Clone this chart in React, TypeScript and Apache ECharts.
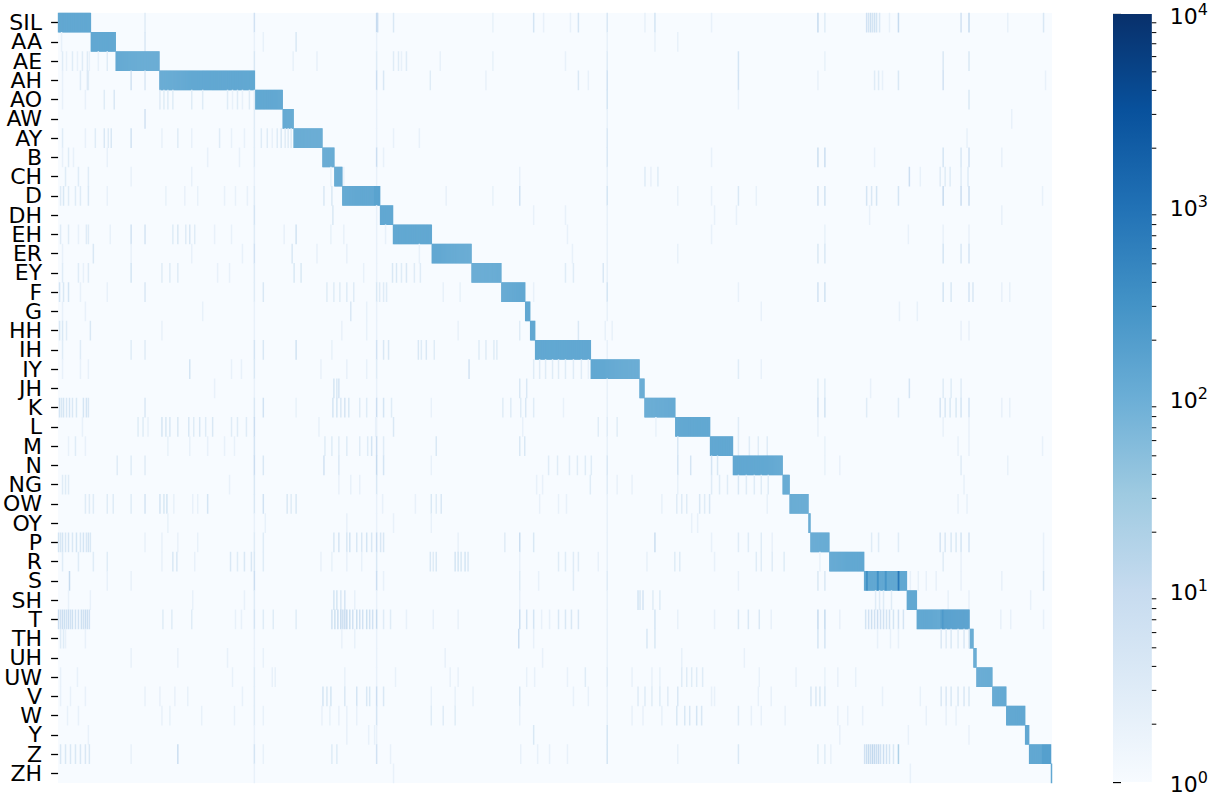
import { useEffect, useRef } from "react";
import * as echarts from "echarts";

const PHONES = ["SIL","AA","AE","AH","AO","AW","AY","B","CH","D","DH","EH","ER","EY","F","G","HH","IH","IY","JH","K","L","M","N","NG","OW","OY","P","R","S","SH","T","TH","UH","UW","V","W","Y","Z","ZH"];

// number of clusters (columns) whose dominant phone is each phone, left to right
const CLUSTERS_PER_PHONE = [33,25,44,96,28,11,29,12,8,38,13,39,40,30,24,5,5,56,49,5,31,35,23,50,7,19,2,19,35,43,10,53,4,3,16,14,19,4,22,1];

// typical count on the diagonal blocks
const DIAG_COUNT = 130;
// darker stretches inside diagonal blocks: [phone, firstCol, lastCol, count]
const DIAG_STRONGER: [string, number, number, number][] = [
  ["D", 318, 323, 160],
  ["S", 813, 814, 320], ["S", 824, 825, 320], ["S", 832, 833, 260], ["S", 845, 845, 1000], ["S", 846, 846, 400],
  ["T", 888, 916, 190], ["T", 890, 890, 320],
  ["Z", 990, 998, 180],
];

// off-diagonal counts, one list of [col, count] per phone row
const OFF_DIAG_SIL_D: [number, number][][] = [
  [[87,3],[197,6],[320,10],[321,8],[337,4],[437,2],[478,5],[488,2],[515,2],[523,5],[552,4],[590,2],[600,5],[657,2],[764,10],[771,3],[813,6],[815,5],[817,7],[819,5],[821,6],[823,5],[826,4],[836,2],[845,10],[908,6],[916,10],[955,2],[991,4]],
  [[3,2],[87,4],[197,2],[206,2],[239,4],[320,2],[552,2],[600,2],[623,2]],
  [[4,3],[8,2],[14,3],[19,2],[24,3],[29,3],[31,2],[40,2],[49,3],[197,4],[236,2],[260,2],[320,3],[337,3],[342,3],[345,2],[350,3],[384,2],[437,2],[510,2],[552,3],[684,5],[771,2],[890,4],[916,4]],
  [[4,2],[22,3],[29,4],[30,3],[73,6],[87,4],[320,8],[327,4],[374,3],[430,2],[523,4],[533,2],[552,6],[684,6],[764,2],[821,3],[825,3],[829,2],[845,4],[890,6],[993,2]],
  [[4,2],[27,2],[46,3],[56,4],[102,3],[106,3],[110,3],[115,3],[134,3],[145,3],[170,3],[175,2],[180,3],[185,2],[192,3],[197,3],[320,2],[552,5],[684,2],[916,4]],
  [[87,6],[197,3],[320,2],[552,2],[959,2]],
  [[4,3],[27,2],[37,3],[46,4],[50,3],[53,4],[73,6],[104,2],[120,3],[134,2],[162,3],[174,2],[187,2],[197,3],[204,3],[210,3],[215,2],[220,3],[224,4],[228,3],[231,3],[234,3],[320,2],[337,2],[363,2],[552,4],[914,2]],
  [[4,2],[10,3],[15,2],[49,2],[150,2],[182,2],[197,3],[320,8],[327,2],[552,4],[657,2],[764,8],[771,8],[821,2],[890,5],[908,4],[916,6],[949,2]],
  [[7,3],[20,3],[30,3],[73,2],[134,2],[197,2],[274,2],[287,2],[320,2],[464,2],[552,2],[590,3],[596,2],[603,3],[856,8],[867,2],[887,3],[892,3],[897,3],[908,3],[915,3]],
  [[2,3],[5,4],[10,3],[17,3],[22,3],[30,4],[49,2],[108,2],[127,2],[140,2],[167,2],[178,2],[190,2],[197,3],[267,4],[275,4],[390,2],[437,2],[464,6],[552,5],[623,2],[657,2],[684,4],[702,2],[764,6],[771,6],[813,5],[818,4],[823,5],[845,5],[890,10],[908,8],[916,8],[990,2]],
];
const OFF_DIAG_DH_JH: [number, number][][] = [
  [[197,5],[276,4],[320,2],[478,2],[510,2],[552,2],[660,2],[682,2],[816,2],[949,2]],
  [[2,3],[10,3],[20,2],[28,3],[30,3],[52,2],[73,6],[87,5],[115,3],[120,4],[128,3],[132,4],[137,3],[157,2],[174,2],[197,3],[227,2],[239,6],[274,2],[287,2],[320,2],[329,2],[512,2],[552,2],[657,2],[771,2],[855,2],[890,2],[916,2]],
  [[4,2],[35,4],[73,2],[134,2],[185,2],[197,6],[235,4],[260,2],[290,2],[320,2],[363,2],[517,2],[552,2],[623,2],[764,4],[771,4],[890,5],[908,4],[916,5]],
  [[4,3],[20,3],[25,2],[30,3],[73,5],[104,3],[112,3],[120,3],[160,2],[172,2],[197,3],[237,4],[244,4],[307,2],[320,2],[336,4],[340,4],[345,3],[350,4],[358,3],[364,3],[510,3],[518,3],[548,4],[552,2]],
  [[1,5],[5,4],[10,5],[22,2],[49,2],[87,4],[197,3],[206,4],[270,3],[277,3],[283,3],[290,3],[297,3],[320,4],[323,3],[327,3],[330,3],[387,2],[404,2],[478,2],[552,5],[684,2],[764,6],[771,6],[890,5],[898,4],[916,5],[920,4],[949,2],[957,2]],
  [[4,2],[27,2],[145,2],[197,2],[294,4],[310,2],[320,2],[552,2],[707,2],[846,2],[864,2]],
  [[1,4],[4,4],[8,3],[32,4],[104,2],[197,2],[285,2],[310,2],[320,2],[402,2],[464,3],[523,4],[550,2],[557,2],[908,2],[916,2]],
  [[4,3],[22,3],[73,3],[87,3],[197,5],[206,4],[239,6],[275,2],[320,6],[327,4],[332,4],[362,4],[365,3],[370,4],[378,3],[423,3],[430,3],[438,3],[441,3],[552,2]],
  [[4,2],[22,2],[30,2],[132,5],[174,2],[184,2],[197,4],[264,2],[290,2],[310,2],[320,3],[413,6],[478,3],[484,3],[490,3],[497,3],[503,3],[510,3],[518,3],[526,3],[533,2],[684,3],[707,2]],
  [[157,2],[197,2],[277,5],[280,4],[282,5],[320,2],[464,4],[471,4],[552,2],[764,3],[771,3],[817,2],[856,5],[890,3],[898,3],[908,3]],
];
const OFF_DIAG_K_S: [number, number][][] = [
  [[1,5],[3,4],[5,5],[8,4],[11,5],[14,4],[18,4],[25,5],[28,5],[30,4],[87,4],[197,4],[206,6],[239,2],[276,5],[280,5],[284,4],[288,5],[292,4],[303,3],[310,3],[320,8],[327,5],[335,3],[375,2],[447,3],[455,3],[465,3],[470,4],[478,3],[508,2],[552,2],[764,6],[771,6],[813,3],[845,3],[887,5],[892,4],[897,4],[903,4],[908,5],[916,5],[949,2],[957,2]],
  [[24,2],[80,3],[85,3],[90,2],[104,5],[108,4],[112,4],[120,4],[131,4],[136,3],[142,4],[148,3],[155,4],[174,3],[180,3],[189,3],[197,8],[262,2],[319,2],[320,2],[337,4],[467,2],[543,3],[552,3],[562,3],[601,2],[684,3],[764,2],[890,2],[916,2]],
  [[10,2],[17,3],[27,2],[110,2],[132,2],[150,2],[167,2],[177,2],[197,5],[268,3],[275,3],[282,3],[290,3],[303,3],[311,3],[315,5],[320,8],[327,3],[380,4],[464,4],[469,4],[552,2],[623,4],[684,3],[695,3],[704,3],[713,3],[771,2],[905,2],[916,2],[990,2]],
  [[59,3],[73,3],[87,3],[197,8],[206,4],[267,6],[282,4],[320,10],[327,5],[375,2],[493,3],[502,3],[514,3],[522,3],[530,3],[536,3],[552,4],[623,5],[636,5],[657,5],[663,4],[771,2],[786,2],[908,3],[955,2]],
  [[4,3],[7,3],[10,3],[172,2],[197,4],[282,2],[294,2],[303,2],[320,4],[481,2],[487,2],[535,3],[552,3],[562,2],[577,2],[623,2],[657,3],[665,3],[673,3],[684,4],[692,3],[700,3],[707,3],[714,3],[911,2]],
  [[27,3],[31,3],[35,3],[49,3],[55,3],[73,3],[87,5],[102,5],[106,4],[109,5],[116,2],[135,2],[140,2],[150,5],[197,4],[206,6],[230,4],[234,3],[239,4],[320,2],[326,2],[359,2],[375,4],[380,3],[385,4],[484,2],[503,2],[511,2],[552,2],[607,2],[622,3],[627,3],[632,3],[645,4],[650,3],[655,4],[713,2],[905,2],[914,2]],
  [[110,2],[197,2],[208,2],[290,2],[320,2],[337,2],[375,2],[552,2],[637,2],[643,2]],
  [[0,5],[2,4],[4,5],[7,4],[10,5],[14,4],[18,5],[22,4],[25,5],[28,4],[30,5],[32,4],[87,2],[104,2],[120,2],[140,2],[197,3],[206,3],[277,4],[282,5],[290,4],[293,5],[300,4],[305,4],[310,5],[315,4],[320,8],[324,4],[327,4],[402,2],[449,3],[464,8],[478,4],[552,2],[600,8],[657,2],[684,3],[694,3],[707,3],[718,2],[818,3],[825,3],[845,3],[887,5],[892,4],[898,4],[903,4],[908,5],[916,5],[991,2]],
  [[4,3],[20,3],[35,3],[49,3],[104,2],[115,4],[119,4],[137,2],[173,4],[180,3],[187,4],[194,4],[197,4],[206,3],[264,2],[275,2],[290,2],[305,2],[320,4],[374,4],[377,3],[380,4],[399,5],[402,5],[405,4],[409,5],[412,4],[464,2],[503,3],[510,3],[518,3],[523,3],[543,2],[552,2],[592,2],[620,3],[625,3],[660,2],[702,3],[707,3],[718,3],[730,3],[766,2],[890,3],[908,2],[991,2]],
  [[11,10],[49,2],[73,2],[197,8],[320,8],[327,2],[464,3],[483,2],[518,3],[552,3],[684,2],[764,4],[771,4],[857,2],[865,2],[873,2],[883,2],[908,2],[949,2],[991,4]],
];
const OFF_DIAG_SH_ZH: [number, number][][] = [
  [[10,2],[32,2],[135,2],[187,2],[197,3],[277,5],[280,5],[284,4],[288,5],[298,2],[320,2],[464,2],[552,2],[583,5],[585,4],[588,5],[598,3],[605,3],[822,3],[826,3],[830,3],[838,3],[895,2],[916,2],[978,2]],
  [[0,8],[2,6],[4,8],[6,7],[8,6],[10,8],[12,6],[14,7],[17,6],[20,6],[23,7],[25,6],[27,8],[29,7],[31,6],[105,3],[114,3],[134,3],[178,2],[184,2],[197,5],[206,3],[216,3],[239,3],[275,6],[278,7],[281,8],[284,10],[286,7],[288,8],[290,9],[293,7],[296,6],[300,7],[303,6],[306,6],[310,7],[313,6],[316,6],[320,10],[327,3],[334,3],[350,2],[377,2],[402,2],[464,8],[471,5],[478,5],[486,2],[494,2],[503,4],[510,4],[516,4],[523,4],[552,2],[600,5],[623,2],[660,2],[684,4],[694,4],[705,4],[717,2],[764,10],[771,10],[786,2],[812,5],[815,6],[818,7],[821,6],[824,8],[827,6],[830,6],[833,5],[836,6],[840,5],[845,6],[850,5],[948,2],[958,2],[991,2]],
  [[2,3],[5,3],[7,2],[27,2],[197,2],[285,2],[298,2],[320,2],[463,8],[478,2],[552,2],[592,4],[600,4],[764,5],[771,5],[824,2],[837,2],[845,2],[888,4],[893,3],[898,4],[905,3],[911,4],[916,4]],
  [[73,2],[120,2],[170,2],[197,2],[206,2],[320,2],[389,2],[487,2],[552,2],[627,2],[690,2]],
  [[2,2],[19,2],[175,2],[197,3],[215,2],[218,2],[288,2],[320,2],[339,2],[394,2],[402,2],[471,2],[479,2],[512,2],[530,3],[552,3],[577,2],[597,2],[605,2],[627,3],[632,3],[637,3],[642,3],[648,3],[705,2],[742,2],[771,2],[784,2],[802,2]],
  [[2,2],[12,2],[27,2],[87,2],[102,2],[117,2],[130,2],[185,2],[197,3],[266,5],[270,4],[274,5],[288,4],[300,5],[310,4],[313,4],[320,8],[327,4],[375,2],[399,2],[417,2],[464,4],[518,2],[533,2],[552,2],[583,3],[590,3],[597,3],[605,3],[613,3],[623,4],[657,2],[660,2],[704,2],[717,2],[757,4],[762,4],[766,4],[771,4],[829,2],[867,2],[888,4],[893,4],[898,4],[905,4],[911,4],[916,4]],
  [[9,2],[20,2],[104,2],[112,2],[144,2],[177,2],[197,3],[206,2],[265,2],[273,2],[282,2],[290,2],[300,2],[320,5],[375,3],[387,3],[399,3],[464,2],[552,2],[577,2],[588,2],[607,2],[622,4],[630,4],[635,4],[642,5],[647,4],[684,3],[697,2],[707,2],[731,2],[784,2],[794,2],[809,2],[873,2],[893,2],[903,2]],
  [[30,2],[197,2],[290,2],[312,2],[318,2],[320,2],[478,4],[552,5],[786,2],[855,2],[916,2]],
  [[2,4],[7,4],[12,4],[17,4],[22,4],[27,4],[31,4],[73,2],[120,8],[197,5],[206,2],[275,3],[280,3],[320,6],[334,2],[465,2],[482,2],[494,2],[512,2],[552,5],[623,2],[684,4],[764,3],[771,3],[777,2],[811,6],[813,8],[815,10],[817,8],[819,12],[821,10],[823,8],[825,10],[827,6],[830,8],[833,6],[836,5],[840,4],[845,20]],
  [[197,2],[337,2],[857,2]],
];

const COLORBAR_MAJOR = [1, 10, 100, 1000, 10000];
const COLORBAR_MINOR = [2,3,4,5,6,7,8,9,20,30,40,50,60,70,80,90,200,300,400,500,600,700,800,900,2000,3000,4000,5000,6000,7000,8000,9000];

const BLUES = ["#f7fbff","#deebf7","#c6dbef","#9ecae1","#6baed6","#4292c6","#2171b5","#08519c","#08306b"];
const FONT = "DejaVu Sans";

function buildHeatData() {
  const data: [number, number, number][] = [];
  const offRows = [...OFF_DIAG_SIL_D, ...OFF_DIAG_DH_JH, ...OFF_DIAG_K_S, ...OFF_DIAG_SH_ZH];
  let start = 0;
  PHONES.forEach((p, r) => {
    const n = CLUSTERS_PER_PHONE[r];
    for (let c = start; c < start + n; c++) {
      let v = DIAG_COUNT;
      DIAG_STRONGER.forEach(([ph, a, b, cnt]) => {
        if (ph === p && c >= a && c <= b) v = cnt;
      });
      data.push([c, r, Math.log10(v)]);
    }
    start += n;
    (offRows[r] || []).forEach(([c, cnt]) => data.push([c, r, Math.log10(cnt)]));
  });
  return { data, total: start };
}

export default function App() {
  const ref = useRef<HTMLDivElement>(null);
  useEffect(() => {
    if (!ref.current) return;
    const chart = echarts.init(ref.current, null, { renderer: "svg" });
    const { data, total } = buildHeatData();
    const cols = Array.from({ length: total }, (_, i) => String(i));
    const stops = BLUES.map((c, i) => ({ offset: i / (BLUES.length - 1), color: c }));
    chart.setOption({
      animation: false,
      backgroundColor: "#ffffff",
      grid: [
        { left: 58, top: 13, width: 994, height: 770, show: true, backgroundColor: BLUES[0], borderWidth: 0 },
        { left: 1113, top: 14, width: 39, height: 769, show: false },
      ],
      xAxis: [
        { type: "category", gridIndex: 0, data: cols, axisLabel: { show: false }, axisTick: { show: false }, axisLine: { show: false }, splitLine: { show: false } },
        { type: "value", gridIndex: 1, min: 0, max: 1, show: false },
      ],
      yAxis: [
        {
          type: "category", gridIndex: 0, data: PHONES, inverse: true,
          axisLine: { show: false },
          axisTick: { show: true, alignWithLabel: true, length: 7, lineStyle: { color: "#000", width: 1.3 } },
          axisLabel: { interval: 0, margin: 16, fontSize: 22, lineHeight: 19, fontFamily: FONT, color: "#000" },
          splitLine: { show: false },
        },
        {
          type: "log", gridIndex: 1, logBase: 10, min: 1, max: 10000, position: "right",
          axisLine: { show: false },
          splitLine: { show: false },
          axisTick: { show: true, length: 8, lineStyle: { color: "#000", width: 1.3 } },
          axisLabel: {
            margin: 18,
            formatter: (v: number) => `{b|10}{s|${Math.round(Math.log10(v))}}`,
            rich: {
              b: { fontSize: 22, fontFamily: FONT, color: "#000", lineHeight: 26, verticalAlign: "bottom" },
              s: { fontSize: 16, fontFamily: FONT, color: "#000", lineHeight: 19, verticalAlign: "top" },
            },
          },
        },
      ],
      visualMap: {
        type: "continuous", show: false, min: 0, max: 4, dimension: 2, seriesIndex: 0,
        inRange: { color: BLUES },
      },
      series: [
        {
          type: "heatmap", xAxisIndex: 0, yAxisIndex: 0, data, progressive: 0,
          emphasis: { disabled: true }, itemStyle: { borderWidth: 0 },
        },
        {
          type: "custom", xAxisIndex: 1, yAxisIndex: 1, silent: true,
          data: [[0, COLORBAR_MAJOR[0], 1, COLORBAR_MAJOR[COLORBAR_MAJOR.length - 1]]],
          encode: { x: [0, 2], y: [1, 3] },
          renderItem: (params: any, api: any) => {
            const p1 = api.coord([api.value(0), api.value(3)]);
            const p2 = api.coord([api.value(2), api.value(1)]);
            return {
              type: "rect",
              shape: { x: p1[0], y: p1[1], width: p2[0] - p1[0], height: p2[1] - p1[1] },
              style: { fill: new echarts.graphic.LinearGradient(0, 1, 0, 0, stops) },
            };
          },
        },
        {
          type: "custom", xAxisIndex: 1, yAxisIndex: 1, silent: true,
          data: COLORBAR_MINOR.map((v) => [1, v]),
          encode: { x: 0, y: 1 },
          renderItem: (params: any, api: any) => {
            const p = api.coord([api.value(0), api.value(1)]);
            return {
              type: "line",
              shape: { x1: p[0], y1: p[1], x2: p[0] + 4.5, y2: p[1] },
              style: { stroke: "#000", lineWidth: 1 },
            };
          },
        },
      ],
    });
    return () => chart.dispose();
  }, []);
  return <div ref={ref} style={{ position: "absolute", left: 0, top: 0, width: 1211, height: 795 }} />;
}
